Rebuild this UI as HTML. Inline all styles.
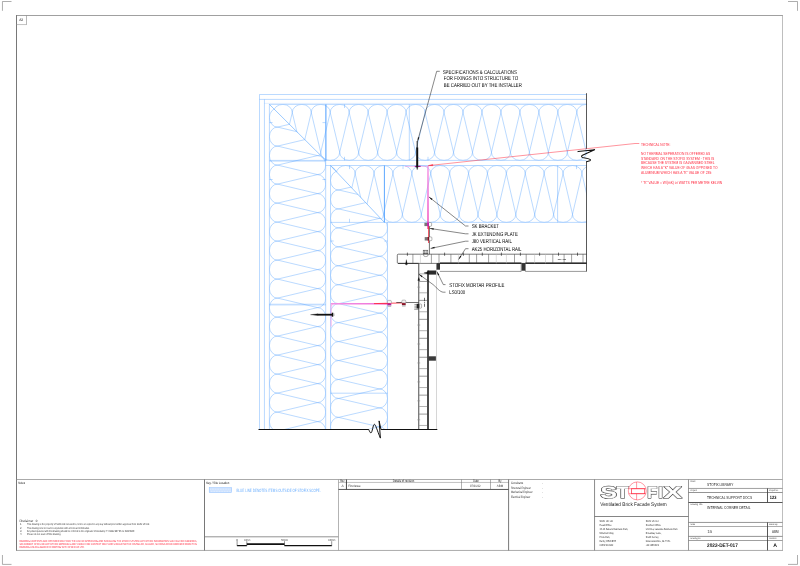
<!DOCTYPE html>
<html lang="en"><head><meta charset="utf-8"><title>Stofix - Internal Corner Detail</title>
<style>html,body{margin:0;padding:0;background:#fff;overflow:hidden}svg{display:block;will-change:transform}text{white-space:pre}</style></head>
<body>
<svg width="800" height="566" viewBox="0 0 800 566" font-family="'Liberation Sans', Arial, sans-serif" shape-rendering="geometricPrecision" text-rendering="geometricPrecision">
<rect width="800" height="566" fill="#fff"/>
<path d="M2.45,10.8V1.5H11.5" stroke="#777" stroke-width="0.6" fill="none" />
<path d="M788,1.5H797.5V10.8" stroke="#777" stroke-width="0.6" fill="none" />
<path d="M2.45,555V564.4H11.5" stroke="#777" stroke-width="0.6" fill="none" />
<path d="M788,564.4H797.5V555" stroke="#777" stroke-width="0.6" fill="none" />
<line x1="16.5" y1="15.1" x2="16.5" y2="550.8" stroke="#555" stroke-width="0.8" />
<line x1="16.1" y1="15.5" x2="782.8" y2="15.5" stroke="#777" stroke-width="0.7" />
<line x1="782.5" y1="15.1" x2="782.5" y2="550.8" stroke="#9b9b9b" stroke-width="0.65" />
<line x1="16.1" y1="550.45" x2="782.8" y2="550.45" stroke="#959595" stroke-width="0.8" />
<path d="M16.5,24.55H26.5" stroke="#999" stroke-width="0.6" fill="none" />
<path d="M26.5,24.8V15.5" stroke="#888" stroke-width="0.6" fill="none" />
<text x="21.2" y="21.35" font-size="3.5" fill="#222" text-anchor="middle" font-weight="normal" textLength="4" lengthAdjust="spacingAndGlyphs" >A3</text>
<line x1="16.5" y1="479.5" x2="782.5" y2="479.5" stroke="#8e8e8e" stroke-width="0.75" />
<defs><clipPath id="cA"><path d="M269.4,104.4H586.5V160.4H325.7Z"/></clipPath><clipPath id="cB"><path d="M269.4,104.4L325.7,160.4V429.0H269.4Z"/></clipPath><clipPath id="cC"><path d="M330.5,165.5H586.5V222.4H384.4Z"/></clipPath><clipPath id="cD"><path d="M330.5,165.5L384.4,222.4H387.5V429.0H330.5Z"/></clipPath><linearGradient id="gm" gradientUnits="userSpaceOnUse" x1="0" y1="166" x2="0" y2="229"><stop offset="0" stop-color="#f28ee2"/><stop offset="0.5" stop-color="#ee5fd2"/><stop offset="0.85" stop-color="#f23fb8"/><stop offset="1" stop-color="#f4308a"/></linearGradient><linearGradient id="gh" gradientUnits="userSpaceOnUse" x1="331" y1="0" x2="390" y2="0"><stop offset="0" stop-color="#f390e3"/><stop offset="0.7" stop-color="#f07adb"/><stop offset="0.85" stop-color="#f24fc0"/><stop offset="1" stop-color="#f4308a"/></linearGradient></defs>
<g fill="none" stroke="#4a9dff" stroke-width="0.38">
<path clip-path="url(#cA)" d="M216.39,112.56A9.48,8.16 0 0 1 235.37,112.56L225.88,152.24A9.48,8.16 0 0 0 244.85,152.24L235.37,112.56M235.37,112.56A9.48,8.16 0 0 1 254.33,112.56L244.85,152.24A9.48,8.16 0 0 0 263.82,152.24L254.33,112.56M254.33,112.56A9.48,8.16 0 0 1 273.31,112.56L263.82,152.24A9.48,8.16 0 0 0 282.79,152.24L273.31,112.56M273.3,112.56A9.48,8.16 0 0 1 292.27,112.56L282.79,152.24A9.48,8.16 0 0 0 301.76,152.24L292.27,112.56M292.27,112.56A9.48,8.16 0 0 1 311.25,112.56L301.76,152.24A9.48,8.16 0 0 0 320.73,152.24L311.25,112.56M311.25,112.56A9.48,8.16 0 0 1 330.22,112.56L320.73,152.24A9.48,8.16 0 0 0 339.7,152.24L330.22,112.56M330.21,112.56A9.48,8.16 0 0 1 349.19,112.56L339.7,152.24A9.48,8.16 0 0 0 358.67,152.24L349.19,112.56M349.18,112.56A9.48,8.16 0 0 1 368.15,112.56L358.67,152.24A9.48,8.16 0 0 0 377.64,152.24L368.15,112.56M368.15,112.56A9.48,8.16 0 0 1 387.12,112.56L377.64,152.24A9.48,8.16 0 0 0 396.61,152.24L387.12,112.56M387.12,112.56A9.48,8.16 0 0 1 406.1,112.56L396.61,152.24A9.48,8.16 0 0 0 415.58,152.24L406.1,112.56M406.09,112.56A9.48,8.16 0 0 1 425.06,112.56L415.58,152.24A9.48,8.16 0 0 0 434.55,152.24L425.06,112.56M425.06,112.56A9.48,8.16 0 0 1 444.03,112.56L434.55,152.24A9.48,8.16 0 0 0 453.52,152.24L444.03,112.56M444.03,112.56A9.48,8.16 0 0 1 463,112.56L453.52,152.24A9.48,8.16 0 0 0 472.49,152.24L463,112.56M463,112.56A9.48,8.16 0 0 1 481.98,112.56L472.49,152.24A9.48,8.16 0 0 0 491.46,152.24L481.98,112.56M481.97,112.56A9.48,8.16 0 0 1 500.94,112.56L491.46,152.24A9.48,8.16 0 0 0 510.43,152.24L500.94,112.56M500.94,112.56A9.48,8.16 0 0 1 519.91,112.56L510.43,152.24A9.48,8.16 0 0 0 529.4,152.24L519.91,112.56M519.91,112.56A9.48,8.16 0 0 1 538.88,112.56L529.4,152.24A9.48,8.16 0 0 0 548.37,152.24L538.88,112.56M538.88,112.56A9.48,8.16 0 0 1 557.86,112.56L548.37,152.24A9.48,8.16 0 0 0 567.34,152.24L557.86,112.56M557.85,112.56A9.48,8.16 0 0 1 576.82,112.56L567.34,152.24A9.48,8.16 0 0 0 586.31,152.24L576.82,112.56M576.82,112.56A9.48,8.16 0 0 1 595.79,112.56L586.31,152.24A9.48,8.16 0 0 0 605.28,152.24L595.79,112.56M595.79,112.56A9.48,8.16 0 0 1 614.76,112.56L605.28,152.24A9.48,8.16 0 0 0 624.25,152.24L614.76,112.56M614.76,112.56A9.48,8.16 0 0 1 633.74,112.56L624.25,152.24A9.48,8.16 0 0 0 643.22,152.24L633.74,112.56M633.74,112.56A9.48,8.16 0 0 1 652.71,112.56L643.22,152.24A9.48,8.16 0 0 0 662.19,152.24L652.71,112.56"/>
<path clip-path="url(#cB)" d="M277.57,51.1A8.17,9.5 0 0 0 277.57,70.1L317.53,60.6A8.17,9.5 0 0 1 317.53,79.6L277.57,70.1M277.57,70.1A8.17,9.5 0 0 0 277.57,89.1L317.53,79.6A8.17,9.5 0 0 1 317.53,98.6L277.57,89.1M277.57,89.1A8.17,9.5 0 0 0 277.57,108.1L317.53,98.6A8.17,9.5 0 0 1 317.53,117.6L277.57,108.1M277.57,108.1A8.17,9.5 0 0 0 277.57,127.1L317.53,117.6A8.17,9.5 0 0 1 317.53,136.6L277.57,127.1M277.57,127.1A8.17,9.5 0 0 0 277.57,146.1L317.53,136.6A8.17,9.5 0 0 1 317.53,155.6L277.57,146.1M277.57,146.1A8.17,9.5 0 0 0 277.57,165.1L317.53,155.6A8.17,9.5 0 0 1 317.53,174.6L277.57,165.1M277.57,165.1A8.17,9.5 0 0 0 277.57,184.1L317.53,174.6A8.17,9.5 0 0 1 317.53,193.6L277.57,184.1M277.57,184.1A8.17,9.5 0 0 0 277.57,203.1L317.53,193.6A8.17,9.5 0 0 1 317.53,212.6L277.57,203.1M277.57,203.1A8.17,9.5 0 0 0 277.57,222.1L317.53,212.6A8.17,9.5 0 0 1 317.53,231.6L277.57,222.1M277.57,222.1A8.17,9.5 0 0 0 277.57,241.1L317.53,231.6A8.17,9.5 0 0 1 317.53,250.6L277.57,241.1M277.57,241.1A8.17,9.5 0 0 0 277.57,260.1L317.53,250.6A8.17,9.5 0 0 1 317.53,269.6L277.57,260.1M277.57,260.1A8.17,9.5 0 0 0 277.57,279.1L317.53,269.6A8.17,9.5 0 0 1 317.53,288.6L277.57,279.1M277.57,279.1A8.17,9.5 0 0 0 277.57,298.1L317.53,288.6A8.17,9.5 0 0 1 317.53,307.6L277.57,298.1M277.57,298.1A8.17,9.5 0 0 0 277.57,317.1L317.53,307.6A8.17,9.5 0 0 1 317.53,326.6L277.57,317.1M277.57,317.1A8.17,9.5 0 0 0 277.57,336.1L317.53,326.6A8.17,9.5 0 0 1 317.53,345.6L277.57,336.1M277.57,336.1A8.17,9.5 0 0 0 277.57,355.1L317.53,345.6A8.17,9.5 0 0 1 317.53,364.6L277.57,355.1M277.57,355.1A8.17,9.5 0 0 0 277.57,374.1L317.53,364.6A8.17,9.5 0 0 1 317.53,383.6L277.57,374.1M277.57,374.1A8.17,9.5 0 0 0 277.57,393.1L317.53,383.6A8.17,9.5 0 0 1 317.53,402.6L277.57,393.1M277.57,393.1A8.17,9.5 0 0 0 277.57,412.1L317.53,402.6A8.17,9.5 0 0 1 317.53,421.6L277.57,412.1M277.57,412.1A8.17,9.5 0 0 0 277.57,431.1L317.53,421.6A8.17,9.5 0 0 1 317.53,440.6L277.57,431.1M277.57,431.1A8.17,9.5 0 0 0 277.57,450.1L317.53,440.6A8.17,9.5 0 0 1 317.53,459.6L277.57,450.1M277.57,450.1A8.17,9.5 0 0 0 277.57,469.1L317.53,459.6A8.17,9.5 0 0 1 317.53,478.6L277.57,469.1M277.57,469.1A8.17,9.5 0 0 0 277.57,488.1L317.53,478.6A8.17,9.5 0 0 1 317.53,497.6L277.57,488.1"/>
<path clip-path="url(#cC)" d="M279.55,173.63A9.45,8.13 0 0 1 298.45,173.63L289,214.27A9.45,8.13 0 0 0 307.9,214.27L298.45,173.63M298.45,173.63A9.45,8.13 0 0 1 317.35,173.63L307.9,214.27A9.45,8.13 0 0 0 326.8,214.27L317.35,173.63M317.35,173.63A9.45,8.13 0 0 1 336.25,173.63L326.8,214.27A9.45,8.13 0 0 0 345.7,214.27L336.25,173.63M336.25,173.63A9.45,8.13 0 0 1 355.15,173.63L345.7,214.27A9.45,8.13 0 0 0 364.6,214.27L355.15,173.63M355.15,173.63A9.45,8.13 0 0 1 374.05,173.63L364.6,214.27A9.45,8.13 0 0 0 383.5,214.27L374.05,173.63M374.05,173.63A9.45,8.13 0 0 1 392.95,173.63L383.5,214.27A9.45,8.13 0 0 0 402.4,214.27L392.95,173.63M392.95,173.63A9.45,8.13 0 0 1 411.85,173.63L402.4,214.27A9.45,8.13 0 0 0 421.3,214.27L411.85,173.63M411.85,173.63A9.45,8.13 0 0 1 430.75,173.63L421.3,214.27A9.45,8.13 0 0 0 440.2,214.27L430.75,173.63M430.75,173.63A9.45,8.13 0 0 1 449.65,173.63L440.2,214.27A9.45,8.13 0 0 0 459.1,214.27L449.65,173.63M449.65,173.63A9.45,8.13 0 0 1 468.55,173.63L459.1,214.27A9.45,8.13 0 0 0 478,214.27L468.55,173.63M468.55,173.63A9.45,8.13 0 0 1 487.45,173.63L478,214.27A9.45,8.13 0 0 0 496.9,214.27L487.45,173.63M487.45,173.63A9.45,8.13 0 0 1 506.35,173.63L496.9,214.27A9.45,8.13 0 0 0 515.8,214.27L506.35,173.63M506.35,173.63A9.45,8.13 0 0 1 525.25,173.63L515.8,214.27A9.45,8.13 0 0 0 534.7,214.27L525.25,173.63M525.25,173.63A9.45,8.13 0 0 1 544.15,173.63L534.7,214.27A9.45,8.13 0 0 0 553.6,214.27L544.15,173.63M544.15,173.63A9.45,8.13 0 0 1 563.05,173.63L553.6,214.27A9.45,8.13 0 0 0 572.5,214.27L563.05,173.63M563.05,173.63A9.45,8.13 0 0 1 581.95,173.63L572.5,214.27A9.45,8.13 0 0 0 591.4,214.27L581.95,173.63M581.95,173.63A9.45,8.13 0 0 1 600.85,173.63L591.4,214.27A9.45,8.13 0 0 0 610.3,214.27L600.85,173.63M600.85,173.63A9.45,8.13 0 0 1 619.75,173.63L610.3,214.27A9.45,8.13 0 0 0 629.2,214.27L619.75,173.63M619.75,173.63A9.45,8.13 0 0 1 638.65,173.63L629.2,214.27A9.45,8.13 0 0 0 648.1,214.27L638.65,173.63"/>
<path clip-path="url(#cD)" d="M338.65,114.18A8.15,9.47 0 0 0 338.65,133.12L379.35,123.65A8.15,9.47 0 0 1 379.35,142.6L338.65,133.12M338.65,133.12A8.15,9.47 0 0 0 338.65,152.07L379.35,142.6A8.15,9.47 0 0 1 379.35,161.55L338.65,152.07M338.65,152.07A8.15,9.47 0 0 0 338.65,171.02L379.35,161.55A8.15,9.47 0 0 1 379.35,180.5L338.65,171.02M338.65,171.03A8.15,9.47 0 0 0 338.65,189.97L379.35,180.5A8.15,9.47 0 0 1 379.35,199.45L338.65,189.97M338.65,189.97A8.15,9.47 0 0 0 338.65,208.92L379.35,199.45A8.15,9.47 0 0 1 379.35,218.4L338.65,208.92M338.65,208.92A8.15,9.47 0 0 0 338.65,227.87L379.35,218.4A8.15,9.47 0 0 1 379.35,237.35L338.65,227.87M338.65,227.88A8.15,9.47 0 0 0 338.65,246.82L379.35,237.35A8.15,9.47 0 0 1 379.35,256.3L338.65,246.82M338.65,246.83A8.15,9.47 0 0 0 338.65,265.78L379.35,256.3A8.15,9.47 0 0 1 379.35,275.25L338.65,265.78M338.65,265.77A8.15,9.47 0 0 0 338.65,284.73L379.35,275.25A8.15,9.47 0 0 1 379.35,294.2L338.65,284.73M338.65,284.72A8.15,9.47 0 0 0 338.65,303.68L379.35,294.2A8.15,9.47 0 0 1 379.35,313.15L338.65,303.68M338.65,303.67A8.15,9.47 0 0 0 338.65,322.62L379.35,313.15A8.15,9.47 0 0 1 379.35,332.1L338.65,322.62M338.65,322.62A8.15,9.47 0 0 0 338.65,341.57L379.35,332.1A8.15,9.47 0 0 1 379.35,351.05L338.65,341.57M338.65,341.57A8.15,9.47 0 0 0 338.65,360.52L379.35,351.05A8.15,9.47 0 0 1 379.35,370L338.65,360.52M338.65,360.52A8.15,9.47 0 0 0 338.65,379.48L379.35,370A8.15,9.47 0 0 1 379.35,388.95L338.65,379.48M338.65,379.47A8.15,9.47 0 0 0 338.65,398.43L379.35,388.95A8.15,9.47 0 0 1 379.35,407.9L338.65,398.43M338.65,398.42A8.15,9.47 0 0 0 338.65,417.38L379.35,407.9A8.15,9.47 0 0 1 379.35,426.85L338.65,417.38M338.65,417.38A8.15,9.47 0 0 0 338.65,436.33L379.35,426.85A8.15,9.47 0 0 1 379.35,445.8L338.65,436.33M338.65,436.32A8.15,9.47 0 0 0 338.65,455.27L379.35,445.8A8.15,9.47 0 0 1 379.35,464.75L338.65,455.27M338.65,455.27A8.15,9.47 0 0 0 338.65,474.23L379.35,464.75A8.15,9.47 0 0 1 379.35,483.7L338.65,474.23M338.65,474.22A8.15,9.47 0 0 0 338.65,493.18L379.35,483.7A8.15,9.47 0 0 1 379.35,502.65L338.65,493.18"/>
<path d="M269.4,104.4L325.7,160.4M330.5,165.5L384.4,222.4" stroke-width="0.55"/>
<path d="M259.5,429.0V94.5H586.5M264.45,429.0V99.4M259.5,99.4H586.5M269.4,429.0V104.4H586.5"/>
<path d="M264.45,103.4H586.5" stroke-opacity="0.4"/>
<path d="M269.4,160.4H586.5M325.7,160.4V429.0"/>
<path d="M269.4,161.3H325.7" stroke-opacity="0.7"/>
<path d="M325.7,165.5H586.5M330.5,165.5V429.0M330.5,222.4H586.5M387.5,222.4V429.0"/>
<path d="M325.9,104.4V160.4" stroke-width="1"/>
<path d="M409.3,104.4V160.4M557.6,165.5V222.4"/>
<path d="M384.4,165.5V222.4" stroke-width="0.9"/>
<path d="M269.4,304.2H325.7M269.4,305H325.7" stroke-opacity="0.8"/>
<path d="M330.5,393.2H387.5"/>
<path d="M269.4,122.6h3.2M325.7,122.6h-3.2M344.5,104.4v3.6M344.5,160.4v-3.6M349.5,165.5v3.6M349.5,222.4v-3.6M269.4,179.5h3.2M325.7,179.5h-3.2M330.5,241h3.2M387.5,241h-3.2M403,165.5v3.6M428,160.4v-3.6M576.5,165.5v3.6M269.4,104.4"/>
</g>
<path d="M405,166.4H428" stroke="#f07ddc" stroke-width="0.6" fill="none" stroke-opacity="0.8"/>
<path d="M414.8,166.4H420.6" stroke="#a0208a" stroke-width="1.2" fill="none" />
<path d="M428,166.1V229" stroke="url(#gm)" stroke-width="1.35" fill="none" />
<path d="M428.6,223V243" stroke="#ff2a3c" stroke-width="0.85" fill="none" />
<path d="M331.1,326.5V304.2" stroke="#f49ae6" stroke-width="0.8" fill="none" />
<path d="M330.8,303.85H390" stroke="url(#gh)" stroke-width="1.5" fill="none" />
<path d="M331.5,306.2q0,-1.9 1.9,-1.9" stroke="#f49ae6" stroke-width="0.5" fill="none" />
<path d="M374,303.6L404,302.9" stroke="#ff2a3c" stroke-width="0.85" fill="none" />
<path d="M428.4,165.6L635,143.5H639.3" stroke="#ff2a3c" stroke-width="0.5" fill="none" />
<path d="M428.4,165.6l4.4,-1.2l0.1,1.4z" stroke="#ff2a3c" stroke-width="0.3" fill="#ff2a3c" />
<path d="M586.5,93.2V148.8M586.5,161.6V271.5" stroke="#111" stroke-width="0.7" fill="none" />
<path d="M578,151.6L594.6,149.7L582.5,155.2Q579.8,157.4 585,158.1Q592.5,159.3 589.8,160.8L586.5,161.8" stroke="#111" stroke-width="1.05" fill="none" stroke-linejoin="round" stroke-linecap="round"/>
<path d="M258.5,429.45H368.7M381,429.45H437.3" stroke="#111" stroke-width="1.1" fill="none" />
<path d="M368.7,429.45C369.5,431 370,433 371,432.9C372.3,432.7 373,424.3 374.4,424.3C375.5,424.3 377,430 380.4,438.1L379.1,420.9L381,429.45" stroke="#111" stroke-width="1.0" fill="none" stroke-linejoin="round" stroke-linecap="round"/>
<path d="M417.2,147.5V166.6" stroke="#111" stroke-width="2.0" fill="none" />
<path d="M416.3,166.6h1.8l-0.9,3.2z" stroke="#111" stroke-width="0.3" fill="#111" />
<path d="M417.2,141V148" stroke="#111" stroke-width="1.0" fill="none" />
<path d="M332.5,314.7H318" stroke="#111" stroke-width="1.8" fill="none" />
<path d="M318,313.8v1.8l-7.5,-0.9z" stroke="#111" stroke-width="0.3" fill="#111" />
<path d="M332.5,312.7V316.7" stroke="#111" stroke-width="1.5" fill="none" />
<path d="M333.9,313.4V316" stroke="#999" stroke-width="0.9" fill="none" />
<path d="M429.4,224V254.3" stroke="#111" stroke-width="0.6" fill="none" />
<path d="M586.5,254.2H398.3Q397.3,254.2 397.3,255.2V262.4Q397.3,263.4 398.3,263.4H586.5" stroke="#222" stroke-width="0.6" fill="none" />
<path d="M440,263.09999999999997H521.4M525.4,263.09999999999997H586.5" stroke="#111" stroke-width="1.2" fill="none" />
<path d="M398,263.4H418.8" stroke="#222" stroke-width="0.8" fill="none" />
<path d="M412.9,254.2V263.4M431.4,254.2V263.4M439,254.2V263.4M450.9,254.2V263.4M469.3,254.2V263.4M476.6,254.2V263.4M488.6,254.2V263.4M514.5,254.2V263.4M526.2,254.2V263.4M552.8,254.2V263.4M564.1,254.2V263.4M571.6,254.2V263.4M583,254.2V263.4" stroke="#444" stroke-width="0.5" fill="none" />
<path d="M420.4,254.2V263.4M458.4,254.2V263.4M496.3,254.2V263.4M506.4,254.2V263.4M534.6,254.2V263.4M545.5,254.2V263.4" stroke="#bbb" stroke-width="0.5" fill="none" />
<path d="M407.4,252.6V255.79999999999998M444.6,252.6V255.79999999999998M463.4,252.6V255.79999999999998M482.3,252.6V255.79999999999998M501.4,252.6V255.79999999999998M520.4,252.6V255.79999999999998M539.6,252.6V255.79999999999998M558.5,252.6V255.79999999999998M577.5,252.6V255.79999999999998" stroke="#111" stroke-width="0.6" fill="none" />
<path d="M557.8,259.5H566" stroke="#111" stroke-width="0.5" fill="none" stroke-dasharray="3 0.8 0.8 0.8"/>
<path d="M405.4,264.4l1,-3.9l1,3.9z" stroke="#111" stroke-width="0.3" fill="#111" />
<path d="M406.4,259.6V265.3" stroke="#111" stroke-width="0.5" fill="none" />
<path d="M439.8,271.4H521.2V263.4M525.4,263.4V271.4H586.5" stroke="#333" stroke-width="0.5" fill="none" />
<rect x="436.1" y="263.1" width="3.9" height="6.6" stroke="none" stroke-width="0.5" fill="#333" />
<rect x="521.6" y="263.1" width="3.6" height="7.6" stroke="none" stroke-width="0.5" fill="#333" />
<rect x="428.2" y="270.5" width="8" height="4.1" stroke="none" stroke-width="0.5" fill="#2a2a2a" />
<rect x="428.7" y="356.3" width="7.2" height="4.4" stroke="none" stroke-width="0.5" fill="#3a3a3a" />
<path d="M418.75,263.4V429.0" stroke="#5a5a5a" stroke-width="1.1" fill="none" />
<path d="M428,270.6V429.0" stroke="#111" stroke-width="1.5" fill="none" />
<path d="M436.5,263.4V429.0" stroke="#bbb" stroke-width="0.6" fill="none" />
<path d="M419.2,273.85H427.3M419.2,292.8H427.3M419.2,311.75H427.3M419.2,330.7H427.3M419.2,349.65H427.3M419.2,368.6H427.3M419.2,387.55H427.3M419.2,406.5H427.3M419.2,425.45H427.3" stroke="#666" stroke-width="0.5" fill="none" />
<path d="M419.2,281.45H427.3M419.2,300.4H427.3M419.2,319.35H427.3M419.2,338.3H427.3M419.2,357.25H427.3M419.2,376.2H427.3M419.2,395.15H427.3M419.2,414.1H427.3" stroke="#333" stroke-width="0.5" fill="none" />
<path d="M417.3,287.15H420.2M417.3,306.1H420.2M417.3,325.05H420.2M417.3,344H420.2M417.3,362.95H420.2M417.3,381.9H420.2M417.3,400.85H420.2M417.3,419.8H420.2" stroke="#888" stroke-width="0.6" fill="none" />
<path d="M417.8,280.5l1,-3l1,3z" stroke="#111" stroke-width="0.3" fill="#111" />
<path d="M396.3,302.5H418.6" stroke="#111" stroke-width="0.6" fill="none" />
<path d="M424.5,297.8V307.2" stroke="#111" stroke-width="0.6" fill="none" stroke-dasharray="3.2 0.8 1 0.8"/>
<rect x="424.4" y="222.7" width="2.8" height="3.4" stroke="none" stroke-width="0.5" fill="#777" />
<rect x="427.1" y="222.6" width="1.9" height="3.6" stroke="none" stroke-width="0.5" fill="#c020a8" />
<path d="M429,222.5h1.6q1,0 1,1v1.8q0,1 -1,1h-1.6" stroke="#555" stroke-width="0.45" fill="#fff" />
<rect x="424.7" y="237.1" width="2.8" height="3.4" stroke="none" stroke-width="0.5" fill="#777" />
<rect x="427.4" y="237" width="1.9" height="3.6" stroke="none" stroke-width="0.5" fill="#7a1020" />
<path d="M429.3,236.9h1.6q1,0 1,1v1.8q0,1 -1,1h-1.6" stroke="#555" stroke-width="0.45" fill="#fff" />
<rect x="423.2" y="250.2" width="4.6" height="3.6" stroke="#333" stroke-width="0.5" fill="none" />
<path d="M424.6,250.2v3.6M426.2,250.2v3.6" stroke="#333" stroke-width="0.5" fill="none" />
<ellipse cx="425.8" cy="254.9" rx="2.4" ry="1.7" fill="none" stroke="#444" stroke-width="0.45"/>
<path d="M387.4,303v-1.5q0,-1.1 1.1,-1.1h1.8q1.1,0 1.1,1.1v1.5" stroke="#777" stroke-width="0.45" fill="#f4f4f4" />
<rect x="387.5" y="303.4" width="3.8" height="2.1" stroke="none" stroke-width="0.5" fill="#b0209a" />
<rect x="387.6" y="305.5" width="3.6" height="1.4" stroke="none" stroke-width="0.5" fill="#bbb" />
<path d="M401.8,302.7v-1.5q0,-1.1 1.1,-1.1h1.8q1.1,0 1.1,1.1v1.5" stroke="#777" stroke-width="0.45" fill="#f4f4f4" />
<rect x="401.9" y="303.1" width="3.8" height="2.1" stroke="none" stroke-width="0.5" fill="#8a1428" />
<rect x="402" y="305.2" width="3.6" height="1.4" stroke="none" stroke-width="0.5" fill="#bbb" />
<rect x="416.6" y="303.8" width="2.5" height="4.7" stroke="none" stroke-width="0.5" fill="#222" />
<path d="M414.4,304.6h2.4M414.4,306.2h2.4M414.4,307.8h2.4M414.2,309.3h4.6" stroke="#333" stroke-width="0.5" fill="none" />
<rect x="419.2" y="304" width="2.4" height="4.2" rx="1" fill="none" stroke="#555" stroke-width="0.45"/>
<path d="M439.8,71.3L436.7,71.3L417.6,141.2" stroke="#111" stroke-width="0.5" fill="none" />
<path d="M417.6,141.2L417.93,137.14L419.38,137.54Z" fill="#111"/>
<path d="M468.5,226L465.5,226L428.9,196.9" stroke="#111" stroke-width="0.5" fill="none" />
<path d="M428.9,196.9L432.5,198.8L431.56,199.98Z" fill="#111"/>
<path d="M468.5,233.8L465.5,233.8L429.7,228.4" stroke="#111" stroke-width="0.5" fill="none" />
<path d="M429.7,228.4L433.77,228.25L433.54,229.74Z" fill="#111"/>
<path d="M468.5,241.2L465.5,241.2L430.6,248.4" stroke="#111" stroke-width="0.5" fill="none" />
<path d="M430.6,248.4L434.37,246.86L434.67,248.33Z" fill="#111"/>
<path d="M468.5,248.7L465.5,248.7L458.6,259.5" stroke="#111" stroke-width="0.5" fill="none" />
<path d="M458.6,259.5L460.12,255.73L461.39,256.53Z" fill="#111"/>
<path d="M445.5,284.6L443.3,284.6L436.9,271.6" stroke="#111" stroke-width="0.5" fill="none" />
<path d="M436.9,271.6L439.34,274.86L437.99,275.52Z" fill="#111"/>
<path d="M445.5,292.2H443.3C440,292 437,288 433,284.5L418.9,274.2" stroke="#111" stroke-width="0.5" fill="none" />
<path d="M418.9,274.2L422.57,275.95L421.69,277.17Z" fill="#111"/>
<path d="M423.9,272.9l4.2,-1.1v2.2z" stroke="#111" stroke-width="0.3" fill="#111" />
<text x="442.7" y="73.79" font-size="5.55" fill="#000" text-anchor="start" font-weight="normal" textLength="74.2" lengthAdjust="spacingAndGlyphs" >SPECIFICATIONS &amp; CALCULATIONS</text>
<text x="443.8" y="80.29" font-size="5.55" fill="#000" text-anchor="start" font-weight="normal" textLength="74.3" lengthAdjust="spacingAndGlyphs" >FOR FIXINGS INTO STRUCTURE TO</text>
<text x="443.8" y="86.59" font-size="5.55" fill="#000" text-anchor="start" font-weight="normal" textLength="78.1" lengthAdjust="spacingAndGlyphs" >BE CARRIED OUT BY THE INSTALLER</text>
<text x="471.7" y="228.19" font-size="5.55" fill="#000" text-anchor="start" font-weight="normal" textLength="27.3" lengthAdjust="spacingAndGlyphs" >SK BRACKET</text>
<text x="471.7" y="235.99" font-size="5.55" fill="#000" text-anchor="start" font-weight="normal" textLength="46.2" lengthAdjust="spacingAndGlyphs" >JK EXTENDING PLATE</text>
<text x="471.7" y="243.39" font-size="5.55" fill="#000" text-anchor="start" font-weight="normal" textLength="40.2" lengthAdjust="spacingAndGlyphs" >J80 VERTICAL RAIL</text>
<text x="471.7" y="250.99" font-size="5.55" fill="#000" text-anchor="start" font-weight="normal" textLength="49.8" lengthAdjust="spacingAndGlyphs" >AK25 HORIZONTAL RAIL</text>
<text x="449.3" y="286.89" font-size="5.55" fill="#000" text-anchor="start" font-weight="normal" textLength="55" lengthAdjust="spacingAndGlyphs" >STOFIX MORTAR PROFILE</text>
<text x="449.3" y="294.29" font-size="5.55" fill="#000" text-anchor="start" font-weight="normal" textLength="15.8" lengthAdjust="spacingAndGlyphs" >LS0/100</text>
<text x="641" y="145.56" font-size="4.35" fill="#ff2238" text-anchor="start" font-weight="normal" textLength="29.3" lengthAdjust="spacingAndGlyphs" >TECHNICAL NOTE:</text>
<text x="641" y="154.86" font-size="4.35" fill="#ff2238" text-anchor="start" font-weight="normal" textLength="69.1" lengthAdjust="spacingAndGlyphs" >NO THERMAL SEPERATION IS OFFERED AS</text>
<text x="641" y="159.66" font-size="4.35" fill="#ff2238" text-anchor="start" font-weight="normal" textLength="73.3" lengthAdjust="spacingAndGlyphs" >STANDARD ON THE STOFIX SYSTEM - THIS IS</text>
<text x="641" y="164.36" font-size="4.35" fill="#ff2238" text-anchor="start" font-weight="normal" textLength="73.6" lengthAdjust="spacingAndGlyphs" >BECAUSE THE SYSTEM IS GALVANISED STEEL</text>
<text x="641" y="169.06" font-size="4.35" fill="#ff2238" text-anchor="start" font-weight="normal" textLength="76.6" lengthAdjust="spacingAndGlyphs" >WHICH HAS A "K" VALUE OF 45 AS OPPOSED TO</text>
<text x="641" y="173.86" font-size="4.35" fill="#ff2238" text-anchor="start" font-weight="normal" textLength="70.3" lengthAdjust="spacingAndGlyphs" >ALUMINIUM WHICH HAS A "K" VALUE OF 235</text>
<text x="641" y="183.66" font-size="4.35" fill="#ff2238" text-anchor="start" font-weight="normal" textLength="81.1" lengthAdjust="spacingAndGlyphs" >* "K" VALUE = W/(mK) or WATTS PER METRE KELVIN</text>
<text x="18.2" y="484.02" font-size="3.4" fill="#111" text-anchor="start" font-weight="normal" textLength="6.8" lengthAdjust="spacingAndGlyphs" >Notes</text>
<text x="19.4" y="521.78" font-size="3.3" fill="#333" text-anchor="start" font-weight="normal" textLength="18.1" lengthAdjust="spacingAndGlyphs" >Disclaimer  :0</text>
<text x="20" y="525.48" font-size="2.75" fill="#333" text-anchor="start" font-weight="normal" >1</text>
<text x="27.1" y="525.48" font-size="2.75" fill="#333" text-anchor="start" font-weight="normal" textLength="122.7" lengthAdjust="spacingAndGlyphs" >This drawing is the property of Stofix Ltd not used to, lent to or copied in any way without prior written approval from Stofix UK Ltd.</text>
<text x="20" y="528.58" font-size="2.75" fill="#333" text-anchor="start" font-weight="normal" >2</text>
<text x="27.1" y="528.58" font-size="2.75" fill="#333" text-anchor="start" font-weight="normal" textLength="62.7" lengthAdjust="spacingAndGlyphs" >This drawing is to be read in conjunction with all relevant information.</text>
<text x="20" y="531.98" font-size="2.75" fill="#333" text-anchor="start" font-weight="normal" >3</text>
<text x="27.1" y="531.98" font-size="2.75" fill="#333" text-anchor="start" font-weight="normal" textLength="107.3" lengthAdjust="spacingAndGlyphs" >Any discrepancies with this drawing should be referred to the originator immediately. T: 01332 897 95. E: ABM ABN</text>
<text x="20" y="535.38" font-size="2.75" fill="#333" text-anchor="start" font-weight="normal" >4</text>
<text x="27.1" y="535.38" font-size="2.75" fill="#333" text-anchor="start" font-weight="normal" textLength="33.9" lengthAdjust="spacingAndGlyphs" >Please do not scale off this drawing.</text>
<text x="19.4" y="541.72" font-size="2.85" fill="#ff2238" text-anchor="start" font-weight="normal" textLength="177.6" lengthAdjust="spacingAndGlyphs" >DRAWING CONTENTS ARE INTENDED ONLY FOR THE USE OF APPROVING AND INSTALLING THE STOFIX SYSTEM. ANY OTHER INFORMATION SUCH AS FIRE BARRIERS,</text>
<text x="19.4" y="544.92" font-size="2.85" fill="#ff2238" text-anchor="start" font-weight="normal" textLength="177.6" lengthAdjust="spacingAndGlyphs" >SECONDARY STEEL OR ANY OTHER MATERIALS ARE VISIBLE FOR CONTEXT ONLY AND SHOULD NOT BE INSTALLED, SCALED, SCHEDULED OR ORDERED FROM THIS</text>
<text x="19.4" y="548.02" font-size="2.85" fill="#ff2238" text-anchor="start" font-weight="normal" textLength="65" lengthAdjust="spacingAndGlyphs" >DRAWING UNLESS AGREED IN WRITING WITH STOFIX UK LTD.</text>
<line x1="204.5" y1="479.5" x2="204.5" y2="550.4" stroke="#555" stroke-width="0.8" />
<text x="206.2" y="484.02" font-size="3.4" fill="#111" text-anchor="start" font-weight="normal" textLength="23" lengthAdjust="spacingAndGlyphs" >Key / Site Location</text>
<rect x="209.2" y="487.7" width="22.5" height="4.9" stroke="#8fc0ff" stroke-width="0.5" fill="#cfe3ff" />
<g fill="#fff" fill-opacity="0.85"><circle cx="210.6" cy="489.1" r="0.42"/><circle cx="211.4" cy="491.2" r="0.42"/><circle cx="212.22" cy="489.1" r="0.42"/><circle cx="213.02" cy="491.2" r="0.42"/><circle cx="213.84" cy="489.1" r="0.42"/><circle cx="214.64" cy="491.2" r="0.42"/><circle cx="215.46" cy="489.1" r="0.42"/><circle cx="216.26" cy="491.2" r="0.42"/><circle cx="217.08" cy="489.1" r="0.42"/><circle cx="217.88" cy="491.2" r="0.42"/><circle cx="218.7" cy="489.1" r="0.42"/><circle cx="219.5" cy="491.2" r="0.42"/><circle cx="220.32" cy="489.1" r="0.42"/><circle cx="221.12" cy="491.2" r="0.42"/><circle cx="221.94" cy="489.1" r="0.42"/><circle cx="222.74" cy="491.2" r="0.42"/><circle cx="223.56" cy="489.1" r="0.42"/><circle cx="224.36" cy="491.2" r="0.42"/><circle cx="225.18" cy="489.1" r="0.42"/><circle cx="225.98" cy="491.2" r="0.42"/><circle cx="226.8" cy="489.1" r="0.42"/><circle cx="227.6" cy="491.2" r="0.42"/><circle cx="228.42" cy="489.1" r="0.42"/><circle cx="229.22" cy="491.2" r="0.42"/><circle cx="230.04" cy="489.1" r="0.42"/><circle cx="230.84" cy="491.2" r="0.42"/></g>
<text x="236.4" y="491.85" font-size="4.6" fill="#6aaeff" text-anchor="start" font-weight="normal" textLength="84.3" lengthAdjust="spacingAndGlyphs" >BLUE LINE DENOTES ITEMS OUTSIDE OF STOFIX SCOPE.</text>
<line x1="204.4" y1="536.8" x2="338.5" y2="536.8" stroke="#777" stroke-width="0.8" />
<path d="M237.1,540.8V546.1M246.8,541.2V546.1M284.5,541.2V546.1M331.7,541.2V546.1" stroke="#111" stroke-width="0.45" fill="none" />
<path d="M237.1,545.6H246.8M284.5,545.6H331.7" stroke="#111" stroke-width="1.3" fill="none" />
<path d="M246.8,544.1H284.5" stroke="#111" stroke-width="1.6" fill="none" />
<text x="237" y="541.34" font-size="2.9" fill="#333" text-anchor="middle" font-weight="normal" >0</text>
<text x="247.2" y="541.34" font-size="2.9" fill="#333" text-anchor="middle" font-weight="normal" textLength="6" lengthAdjust="spacingAndGlyphs" >10mm</text>
<text x="284.6" y="541.34" font-size="2.9" fill="#333" text-anchor="middle" font-weight="normal" textLength="6.6" lengthAdjust="spacingAndGlyphs" >50mm</text>
<text x="331.8" y="541.34" font-size="2.9" fill="#333" text-anchor="middle" font-weight="normal" textLength="7.2" lengthAdjust="spacingAndGlyphs" >100mm</text>
<line x1="338.5" y1="479.5" x2="338.5" y2="550.4" stroke="#999" stroke-width="0.75" />
<line x1="338.5" y1="482.45" x2="508.7" y2="482.45" stroke="#999" stroke-width="0.6" />
<line x1="338.5" y1="489.45" x2="508.7" y2="489.45" stroke="#444" stroke-width="0.9" />
<line x1="346.45" y1="479.5" x2="346.45" y2="489.4" stroke="#333" stroke-width="0.9" />
<line x1="461.5" y1="479.5" x2="461.5" y2="489.3" stroke="#666" stroke-width="0.5" />
<line x1="490.5" y1="479.5" x2="490.5" y2="489.3" stroke="#666" stroke-width="0.5" />
<line x1="508.6" y1="479.5" x2="508.6" y2="550.4" stroke="#555" stroke-width="0.8" />
<text x="342.5" y="482.25" font-size="3.5" fill="#111" text-anchor="middle" font-weight="normal" textLength="4.6" lengthAdjust="spacingAndGlyphs" >Rev.</text>
<text x="403.5" y="482.25" font-size="3.5" fill="#111" text-anchor="middle" font-weight="normal" textLength="21.5" lengthAdjust="spacingAndGlyphs" >Details of revision</text>
<text x="476" y="482.25" font-size="3.5" fill="#111" text-anchor="middle" font-weight="normal" textLength="5.4" lengthAdjust="spacingAndGlyphs" >Date</text>
<text x="500" y="482.25" font-size="3.5" fill="#111" text-anchor="middle" font-weight="normal" textLength="2.8" lengthAdjust="spacingAndGlyphs" >By</text>
<text x="342.5" y="487.38" font-size="3.3" fill="#333" text-anchor="middle" font-weight="normal" >A</text>
<text x="348.2" y="487.38" font-size="3.3" fill="#333" text-anchor="start" font-weight="normal" textLength="12.3" lengthAdjust="spacingAndGlyphs" >First Issue</text>
<text x="475.2" y="487.35" font-size="3.2" fill="#333" text-anchor="middle" font-weight="normal" textLength="10.6" lengthAdjust="spacingAndGlyphs" >07/01/22</text>
<text x="500" y="487.35" font-size="3.2" fill="#333" text-anchor="middle" font-weight="normal" textLength="6.4" lengthAdjust="spacingAndGlyphs" >ABM</text>
<text x="510.9" y="483.98" font-size="3.3" fill="#333" text-anchor="start" font-weight="normal" textLength="12.3" lengthAdjust="spacingAndGlyphs" >Consultants</text>
<text x="510.9" y="488.78" font-size="3.3" fill="#333" text-anchor="start" font-weight="normal" textLength="19.8" lengthAdjust="spacingAndGlyphs" >Structural Engineer</text>
<text x="510.9" y="493.38" font-size="3.3" fill="#333" text-anchor="start" font-weight="normal" textLength="21.6" lengthAdjust="spacingAndGlyphs" >Mechanical Engineer</text>
<text x="510.9" y="498.18" font-size="3.3" fill="#333" text-anchor="start" font-weight="normal" textLength="19.4" lengthAdjust="spacingAndGlyphs" >Electrical Engineer</text>
<text x="542" y="483.98" font-size="3.3" fill="#777" text-anchor="start" font-weight="normal" >-</text>
<text x="542" y="488.78" font-size="3.3" fill="#777" text-anchor="start" font-weight="normal" >-</text>
<text x="542" y="493.38" font-size="3.3" fill="#777" text-anchor="start" font-weight="normal" >-</text>
<text x="542" y="498.18" font-size="3.3" fill="#777" text-anchor="start" font-weight="normal" >-</text>
<line x1="594.55" y1="479.5" x2="594.55" y2="550.4" stroke="#666" stroke-width="0.75" />
<line x1="688.5" y1="479.5" x2="688.5" y2="550.4" stroke="#777" stroke-width="0.75" />
<line x1="594.6" y1="516.5" x2="688.4" y2="516.5" stroke="#666" stroke-width="0.8" />
<text x="600.4" y="497.6" font-size="16.6" textLength="16.4" lengthAdjust="spacingAndGlyphs" font-weight="bold" fill="#2a2a2a" stroke="#2a2a2a" stroke-width="1.35" stroke-linejoin="round">S</text>
<text x="616.8" y="497.6" font-size="16.6" textLength="11.8" lengthAdjust="spacingAndGlyphs" font-weight="bold" fill="#2a2a2a" stroke="#2a2a2a" stroke-width="1.35" stroke-linejoin="round">T</text>
<text x="647.3" y="497.6" font-size="16.6" textLength="9.9" lengthAdjust="spacingAndGlyphs" font-weight="bold" fill="#2a2a2a" stroke="#2a2a2a" stroke-width="1.35" stroke-linejoin="round">F</text>
<text x="658.3" y="497.6" font-size="16.6" textLength="4.6" lengthAdjust="spacingAndGlyphs" font-weight="bold" fill="#2a2a2a" stroke="#2a2a2a" stroke-width="1.35" stroke-linejoin="round">I</text>
<text x="663.8" y="497.6" font-size="16.6" textLength="18.1" lengthAdjust="spacingAndGlyphs" font-weight="bold" fill="#2a2a2a" stroke="#2a2a2a" stroke-width="1.35" stroke-linejoin="round">X</text>
<text x="600.4" y="497.6" font-size="16.6" textLength="16.4" lengthAdjust="spacingAndGlyphs" font-weight="bold" fill="#fff" stroke="#fff" stroke-width="0.4" stroke-linejoin="round">S</text>
<text x="616.8" y="497.6" font-size="16.6" textLength="11.8" lengthAdjust="spacingAndGlyphs" font-weight="bold" fill="#fff" stroke="#fff" stroke-width="0.4" stroke-linejoin="round">T</text>
<text x="647.3" y="497.6" font-size="16.6" textLength="9.9" lengthAdjust="spacingAndGlyphs" font-weight="bold" fill="#fff" stroke="#fff" stroke-width="0.4" stroke-linejoin="round">F</text>
<text x="658.3" y="497.6" font-size="16.6" textLength="4.6" lengthAdjust="spacingAndGlyphs" font-weight="bold" fill="#fff" stroke="#fff" stroke-width="0.4" stroke-linejoin="round">I</text>
<text x="663.8" y="497.6" font-size="16.6" textLength="18.1" lengthAdjust="spacingAndGlyphs" font-weight="bold" fill="#fff" stroke="#fff" stroke-width="0.4" stroke-linejoin="round">X</text>
<circle cx="637.3" cy="490.9" r="9" fill="#fff" stroke="#ff3348" stroke-width="0.5"/>
<path d="M628.7,488.7H645.9M628.7,493.7H645.9M636.6,482V488.7M636.6,493.7V499.9" stroke="#ff3348" stroke-width="0.5" fill="none" />
<rect x="631.4" y="488.7" width="13.3" height="5" stroke="#ff3348" stroke-width="0.75" fill="none" />
<text x="600.3" y="505.9" font-size="5.3" fill="#222" text-anchor="start" font-weight="normal" textLength="66.5" lengthAdjust="spacingAndGlyphs" >Ventilated Brick Facade System</text>
<text x="599.6" y="521.66" font-size="2.95" fill="#333" text-anchor="start" font-weight="normal" textLength="13.2" lengthAdjust="spacingAndGlyphs" >Stofix UK Ltd</text>
<text x="645.8" y="521.66" font-size="2.95" fill="#333" text-anchor="start" font-weight="normal" textLength="12.6" lengthAdjust="spacingAndGlyphs" >Stofix UK Ltd</text>
<text x="599.6" y="525.76" font-size="2.95" fill="#333" text-anchor="start" font-weight="normal" textLength="11.8" lengthAdjust="spacingAndGlyphs" >Head Office</text>
<text x="645.8" y="525.76" font-size="2.95" fill="#333" text-anchor="start" font-weight="normal" textLength="15" lengthAdjust="spacingAndGlyphs" >Southern Office</text>
<text x="599.6" y="529.86" font-size="2.95" fill="#333" text-anchor="start" font-weight="normal" textLength="28.6" lengthAdjust="spacingAndGlyphs" >15-16 Bakers Business Park,</text>
<text x="645.8" y="529.86" font-size="2.95" fill="#333" text-anchor="start" font-weight="normal" textLength="31.8" lengthAdjust="spacingAndGlyphs" >Unit 11a, Lakeside Business Park</text>
<text x="599.6" y="533.96" font-size="2.95" fill="#333" text-anchor="start" font-weight="normal" textLength="14.4" lengthAdjust="spacingAndGlyphs" >Millenium Way,</text>
<text x="645.8" y="533.96" font-size="2.95" fill="#333" text-anchor="start" font-weight="normal" textLength="15.6" lengthAdjust="spacingAndGlyphs" >Broadway Lane,</text>
<text x="599.6" y="538.06" font-size="2.95" fill="#333" text-anchor="start" font-weight="normal" textLength="10.6" lengthAdjust="spacingAndGlyphs" >Pride Park,</text>
<text x="645.8" y="538.06" font-size="2.95" fill="#333" text-anchor="start" font-weight="normal" textLength="13.2" lengthAdjust="spacingAndGlyphs" >South Cerney,</text>
<text x="599.6" y="542.16" font-size="2.95" fill="#333" text-anchor="start" font-weight="normal" textLength="16.6" lengthAdjust="spacingAndGlyphs" >Derby, DE24 8HP</text>
<text x="645.8" y="542.16" font-size="2.95" fill="#333" text-anchor="start" font-weight="normal" textLength="24.6" lengthAdjust="spacingAndGlyphs" >Gloucestershire, GL7 5XL</text>
<text x="599.6" y="546.26" font-size="2.95" fill="#333" text-anchor="start" font-weight="normal" textLength="13.6" lengthAdjust="spacingAndGlyphs" >01332 416040</text>
<text x="645.8" y="546.26" font-size="2.95" fill="#333" text-anchor="start" font-weight="normal" textLength="13.4" lengthAdjust="spacingAndGlyphs" >+44 1285 862 4</text>
<line x1="688.5" y1="488.45" x2="782.5" y2="488.45" stroke="#777" stroke-width="0.7" />
<line x1="688.5" y1="492.5" x2="782.5" y2="492.5" stroke="#666" stroke-width="0.7" />
<line x1="688.5" y1="502.5" x2="782.5" y2="502.5" stroke="#444" stroke-width="0.9" />
<line x1="688.5" y1="522.45" x2="782.5" y2="522.45" stroke="#6a6a6a" stroke-width="0.7" />
<line x1="688.5" y1="526.5" x2="782.5" y2="526.5" stroke="#888" stroke-width="0.7" />
<line x1="688.5" y1="536.4" x2="782.5" y2="536.4" stroke="#666" stroke-width="0.7" />
<line x1="688.5" y1="540.5" x2="782.5" y2="540.5" stroke="#777" stroke-width="0.7" />
<line x1="767.5" y1="488.4" x2="767.5" y2="502.5" stroke="#444" stroke-width="0.9" />
<line x1="767.5" y1="522.4" x2="767.5" y2="550.4" stroke="#444" stroke-width="0.9" />
<text x="690.4" y="481.82" font-size="2.3" fill="#333" text-anchor="start" font-weight="normal" textLength="5" lengthAdjust="spacingAndGlyphs" >Client</text>
<text x="690.4" y="491.32" font-size="2.3" fill="#333" text-anchor="start" font-weight="normal" textLength="6.4" lengthAdjust="spacingAndGlyphs" >Project</text>
<text x="769" y="491.32" font-size="2.3" fill="#333" text-anchor="start" font-weight="normal" textLength="9.6" lengthAdjust="spacingAndGlyphs" >Project No.</text>
<text x="690.4" y="505.12" font-size="2.3" fill="#333" text-anchor="start" font-weight="normal" textLength="12" lengthAdjust="spacingAndGlyphs" >Drawing Title</text>
<text x="690.4" y="525.02" font-size="2.3" fill="#333" text-anchor="start" font-weight="normal" textLength="4.8" lengthAdjust="spacingAndGlyphs" >Scale</text>
<text x="769" y="525.02" font-size="2.3" fill="#333" text-anchor="start" font-weight="normal" textLength="8.6" lengthAdjust="spacingAndGlyphs" >Drawn By</text>
<text x="690.4" y="538.92" font-size="2.3" fill="#333" text-anchor="start" font-weight="normal" textLength="10.6" lengthAdjust="spacingAndGlyphs" >Drawing No.</text>
<text x="769" y="538.92" font-size="2.3" fill="#333" text-anchor="start" font-weight="normal" textLength="7.6" lengthAdjust="spacingAndGlyphs" >Revision</text>
<text x="707.1" y="485.64" font-size="4.3" fill="#222" text-anchor="start" font-weight="normal" textLength="26.2" lengthAdjust="spacingAndGlyphs" >STOFIX LIBRARY</text>
<text x="707.1" y="498.94" font-size="4.3" fill="#222" text-anchor="start" font-weight="normal" textLength="45" lengthAdjust="spacingAndGlyphs" >TECHNICAL SUPPORT DOCS</text>
<text x="769.8" y="499.08" font-size="4.7" fill="#111" text-anchor="start" font-weight="bold" textLength="6.5" lengthAdjust="spacingAndGlyphs" >123</text>
<text x="707.1" y="509.44" font-size="4.3" fill="#222" text-anchor="start" font-weight="normal" textLength="43.4" lengthAdjust="spacingAndGlyphs" >INTERNAL CORNER DETAIL</text>
<text x="707.5" y="533.34" font-size="4.3" fill="#222" text-anchor="start" font-weight="normal" textLength="4.6" lengthAdjust="spacingAndGlyphs" >1:5</text>
<text x="772" y="533.34" font-size="4.3" fill="#222" text-anchor="start" font-weight="normal" textLength="6.6" lengthAdjust="spacingAndGlyphs" >ABM</text>
<text x="707.1" y="547.06" font-size="5.2" fill="#111" text-anchor="start" font-weight="bold" textLength="30.7" lengthAdjust="spacingAndGlyphs" >2022-DET-017</text>
<text x="775" y="547.06" font-size="5.2" fill="#111" text-anchor="middle" font-weight="bold" >A</text>
</svg>
</body></html>
